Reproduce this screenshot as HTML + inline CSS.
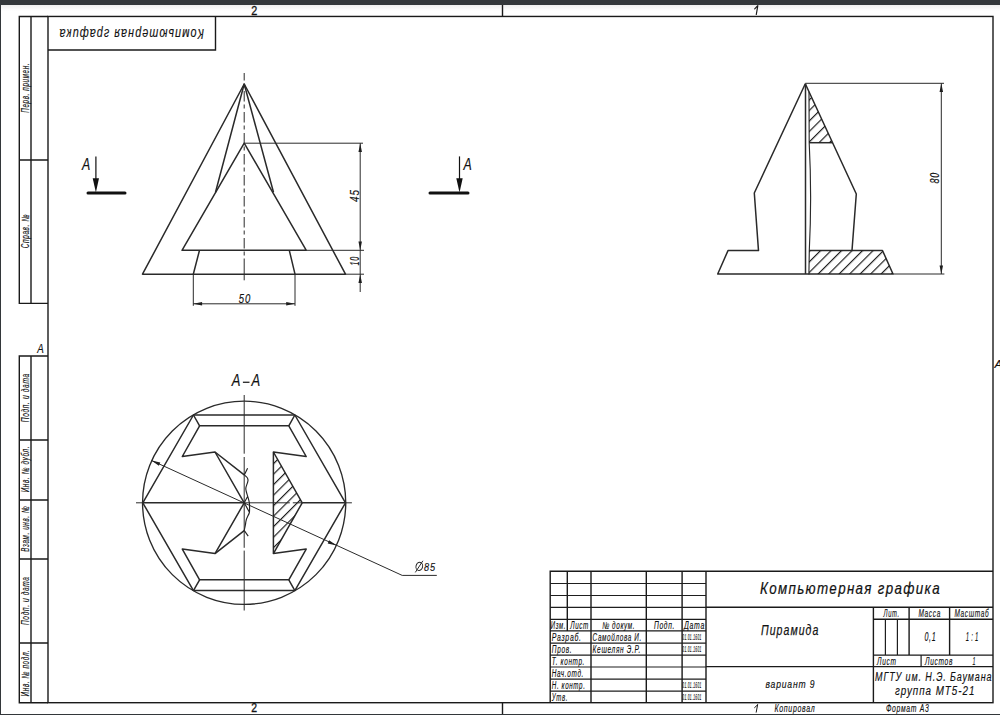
<!DOCTYPE html>
<html><head><meta charset="utf-8">
<style>
html,body{margin:0;padding:0;background:#33373a;}
body{width:1000px;height:715px;overflow:hidden;position:relative;}
svg{position:absolute;left:0;top:0;}
.m{stroke:#2a2a2a;stroke-width:1.5}.t{stroke:#2a2a2a;stroke-width:1}.f{stroke:#1a1a1a;stroke-width:1.4}.f2{stroke:#1e1e1e;stroke-width:1.2}
text{font-family:"Liberation Sans",sans-serif;font-style:italic;fill:#111;letter-spacing:0.1em;stroke:#111;stroke-width:0.15px;}
</style></head><body>
<svg width="1000" height="715" viewBox="0 0 1000 715">
<defs>
<linearGradient id="tg" x1="0" y1="0" x2="0" y2="1">
<stop offset="0" stop-color="#eeeeee"/><stop offset="1" stop-color="#ffffff"/>
</linearGradient>
<pattern id="h1" patternUnits="userSpaceOnUse" width="7.42" height="10" patternTransform="rotate(45)">
<line x1="0.6" y1="0" x2="0.6" y2="10" stroke="#1a1a1a" stroke-width="1.15"/>
</pattern>
<pattern id="h2" patternUnits="userSpaceOnUse" width="7.42" height="10" patternTransform="rotate(45) translate(-3.2 0)">
<line x1="0.6" y1="0" x2="0.6" y2="10" stroke="#1a1a1a" stroke-width="1.15"/>
</pattern>
<pattern id="h3" patternUnits="userSpaceOnUse" width="7.42" height="10" patternTransform="rotate(45) translate(1.3 0)">
<line x1="0.6" y1="0" x2="0.6" y2="10" stroke="#1a1a1a" stroke-width="1.15"/>
</pattern>
</defs>
<rect x="1" y="5" width="999" height="709" fill="#ffffff"/>
<rect x="1" y="5" width="999" height="6" fill="url(#tg)"/>

<g fill="none" class="f">
<!-- main frame -->
<rect x="48" y="16.45" width="945" height="686.25"/>
<!-- left strips -->
<path d="M48 16.45H19.3V303.4H48 M31 16.45V303.4 M19.3 160H48"/>
<path d="M48 356H19.3V702.7H48 M31 356V702.7 M19.3 440H48 M19.3 500H48 M19.3 559H48 M19.3 643H48"/>
<!-- top title box -->
<path d="M48 50H215.5V16.45"/>
<!-- zone ticks -->
<path d="M502.5 5V16.45 M502.5 702.7V714"/>
</g>

<!-- FRONT VIEW -->
<g fill="none" class="m" stroke-linejoin="round">
<path d="M244.2 84L142.5 274.2H345.5Z"/>
<path d="M244.2 143.2L182 250.3H306.3Z"/>
<path d="M244.2 84L215.5 192.2 M244.2 84L273.5 192.2"/>
<path d="M199.5 250.3L193.3 274.2 M289.3 250.3L295 274.2"/>
</g>
<g fill="none" class="t">
<path d="M244.2 73V259" stroke-dasharray="10.5 3 4 3.5" stroke-dashoffset="3"/><path d="M244.2 258.5V280.3"/>
<path d="M244.2 143.2H363 M306.3 250.3H364 M345.5 274.2H364 M360.2 143.2V292"/>
<path d="M193.3 274.2V305.8 M295 274.2V305.8 M193.3 303.8H295"/>
</g>
<g fill="#1e1e1e">
<path d="M360.2 143.2l-1.75 8.8h3.5z M360.2 250.3l-1.75 -8.8h3.5z M360.2 274.2l-1.75 8.8h3.5z"/>
<path d="M193.3 303.8l8.8 -1.75v3.5z M295 303.8l-8.8 -1.75v3.5z"/>
</g>
<text x="238.7" y="302.5" font-size="12" textLength="12.5" lengthAdjust="spacingAndGlyphs">50</text>
<text transform="translate(358.8 202) rotate(-90)" font-size="12" textLength="13" lengthAdjust="spacingAndGlyphs">45</text>
<text transform="translate(358.5 265.5) rotate(-90)" font-size="12" textLength="9.5" lengthAdjust="spacingAndGlyphs">10</text>

<!-- section markers -->
<g stroke="#111" fill="none">
<path d="M95.9 156.4V180" stroke-width="1.2"/>
<path d="M88 193H125" stroke-width="3" stroke-linecap="round"/>
<path d="M459.5 156.4V180" stroke-width="1.2"/>
<path d="M430 193H468" stroke-width="3" stroke-linecap="round"/>
</g>
<g fill="#111">
<path d="M92.7 178.2H99L95.9 192.5Z"/>
<path d="M456.3 178.2H462.7L459.5 192.5Z"/>
</g>
<text x="82" y="169.8" font-size="16" textLength="9.5" lengthAdjust="spacingAndGlyphs">A</text>
<text x="463.5" y="169.8" font-size="16" textLength="9.5" lengthAdjust="spacingAndGlyphs">A</text>

<!-- SIDE VIEW -->
<g fill="none" class="m" stroke-linejoin="round">
<path d="M805.3 83.7L754.3 193L758.5 250.6H728L717.7 274H893L882.5 250.5H809"/>
<path d="M805.3 83.7L856.3 194L852 250.5"/>
<path d="M805.5 83.7V274"/>
<path d="M809 91.7L809.2 142.7Q812 197 809.3 250.5L808.9 274.5" style="stroke-width:1.15"/>
<path d="M809 142.7H832.6"/>
</g>
<path d="M809 91.7L832.6 142.7H809Z" fill="url(#h2)"/>
<path d="M809 250.5H882.5L893 274H809Z" fill="url(#h1)"/>
<g fill="none" class="t">
<path d="M805.3 83.3H944 M893 274H944.4 M941.3 83.3V274"/>
</g>
<g fill="#1e1e1e">
<path d="M941.3 83.3l-1.75 8.6h3.5z M941.3 274l-1.75 -8.6h3.5z"/>
</g>
<text transform="translate(939 183.5) rotate(-90)" font-size="12" textLength="11.7" lengthAdjust="spacingAndGlyphs">80</text>

<!-- SECTION A-A -->
<text x="231.8" y="385.8" font-size="17" textLength="10" lengthAdjust="spacingAndGlyphs">A</text>
<text x="251.6" y="385.8" font-size="17" textLength="10" lengthAdjust="spacingAndGlyphs">A</text>
<path d="M242.9 382.3H249.5" stroke="#333" stroke-width="1.4"/>
<g fill="none" class="m" stroke-linejoin="round">
<circle cx="244.15" cy="502.8" r="101.6" style="stroke-width:1.35"/>
<path d="M142.8 502.8L193.45 415H294.85L345.5 502.8L294.85 590.6H193.45Z"/>
<path d="M142.8 502.8H244.2 M302.2 502.8H345.5"/>
<path d="M193.45 415L199.6 425.8 M294.85 415L288.8 425.8 M193.45 590.6L199.6 579.8 M294.85 590.6L288.8 579.8"/>
<path d="M244.2 425.8H199.6L182.3 456.5L215 452L244.2 474.9 M244.2 530.7L215 553.6L182.3 549.1L199.6 579.8H244.2"/>
<path d="M215 452L244.2 502.8L215 553.6"/>
<path d="M244.2 425.8H288.8L306.2 456.5L273.4 452V553.6L306.2 549.1L288.8 579.8H244.2"/>
<path d="M273.4 452L302.2 502.8L273.4 553.6"/>
</g>
<path d="M273.4 452L302.2 502.8L273.4 553.6Z" fill="url(#h3)"/>
<g fill="none" class="t">
<path d="M247.6 468.3L244.3 474.9C246.5 476.5 248.3 478 248 480.5C247.6 484 245.6 486 245.8 489C246 493 249.4 499 249.5 504.6C249.6 508 249.6 511 249.4 512.5C248.5 516 246 518 245.8 522C245.6 526 244.3 528 244.3 530.6L248.2 536.1 M244.2 502.8L247.6 496.4 M244.2 502.8L249.4 512.2" style="stroke-width:1.15;stroke:#222"/>
<path d="M244.2 395V453.7 M244.2 457V547.8 M244.2 550.6V610.5"/>
<path d="M136 502.8H142.8 M244.2 502.8H289.8 M292.8 502.8H302.2 M345.5 502.8H351.9"/>
<path d="M151.4 460.4L402.2 575.4H436.8"/>
</g>
<g fill="#1e1e1e">
<path d="M151.4 460.4L160.3 462.6L158.9 465.7Z M336.6 545.6L327.7 543.4L329.1 540.3Z"/>
</g>
<text x="424" y="570.6" font-size="11.8" textLength="12" lengthAdjust="spacingAndGlyphs">85</text>
<ellipse cx="419.3" cy="566.4" rx="3.3" ry="4.1" transform="rotate(15 419.3 566.4)" fill="none" stroke="#222" stroke-width="0.95"/>
<path d="M415.3 572.4L422.9 560.8" stroke="#222" stroke-width="0.95"/>


<!-- TITLE BLOCK -->
<g fill="none" class="f">
<path d="M550.2 702.7V571.3H993"/>
<path d="M567.3 571.3V630.9 M591 571.3V702.7 M646.3 571.3V702.7 M682.1 571.3V702.7 M706 571.3V702.7"/>
<path d="M550.2 619.4H706 M550.2 630.9H706"/>
<path d="M706 607.3H993 M706 666.6H993 M873.4 607.3V702.7"/>
<path d="M873.4 619.2H993 M873.4 655.1H993 M909.1 607.3V655.1 M949.6 607.3V655.1"/>
</g>
<g fill="none" class="f2">
<path d="M550.2 583.5H706 M550.2 595.5H706 M550.2 607.4H706"/>
<path d="M550.2 643.2H706 M550.2 655.1H706 M550.2 667H706 M550.2 679.1H706 M550.2 691.1H706"/>
<path d="M885.4 619.2V655.1 M897.4 619.2V655.1 M921.1 655.1V666.6"/>
</g>
<g font-size="10">
<text x="550.8" y="629" textLength="15.2" lengthAdjust="spacingAndGlyphs">Изм.</text>
<text x="570.2" y="629" textLength="18.8" lengthAdjust="spacingAndGlyphs">Лист</text>
<text x="602.2" y="629" textLength="33" lengthAdjust="spacingAndGlyphs">№ докум.</text>
<text x="654" y="629" textLength="21" lengthAdjust="spacingAndGlyphs">Подп.</text>
<text x="684" y="629" textLength="21" lengthAdjust="spacingAndGlyphs">Дата</text>
<text x="551.8" y="641.3" textLength="29.8" lengthAdjust="spacingAndGlyphs">Разраб.</text>
<text x="551.8" y="653.2" textLength="20.4" lengthAdjust="spacingAndGlyphs">Пров.</text>
<text x="551.8" y="665.2" textLength="33.2" lengthAdjust="spacingAndGlyphs">Т. контр.</text>
<text x="551.8" y="677.2" textLength="32.2" lengthAdjust="spacingAndGlyphs">Нач.отд.</text>
<text x="551.8" y="689.2" textLength="33.7" lengthAdjust="spacingAndGlyphs">Н. контр.</text>
<text x="551.8" y="701.2" textLength="16.2" lengthAdjust="spacingAndGlyphs">Утв.</text>
<text x="592.6" y="641.3" textLength="49.4" lengthAdjust="spacingAndGlyphs">Самойлова И.</text>
<text x="592.6" y="653.2" textLength="48.4" lengthAdjust="spacingAndGlyphs">Кешелян Э.Р.</text>
</g>
<g font-size="8.2" style="letter-spacing:0">
<text x="682.3" y="640" textLength="19.3" lengthAdjust="spacingAndGlyphs">01.01.1601</text>
<text x="682.3" y="652" textLength="19.3" lengthAdjust="spacingAndGlyphs">01.01.1601</text>
<text x="682.3" y="688" textLength="19.3" lengthAdjust="spacingAndGlyphs">01.01.1601</text>
<text x="682.3" y="700" textLength="19.3" lengthAdjust="spacingAndGlyphs">01.01.1601</text>
</g>
<text x="760" y="593.6" font-size="17" style="stroke:#111;stroke-width:0.22px" textLength="181" lengthAdjust="spacingAndGlyphs">Компьютерная графика</text>
<text x="761" y="635" font-size="15" style="stroke:#1a1a1a;stroke-width:0.25px" textLength="58.4" lengthAdjust="spacingAndGlyphs">Пирамида</text>
<text x="765.4" y="688.4" font-size="11" textLength="50" lengthAdjust="spacingAndGlyphs">вариант 9</text>
<g font-size="10.5">
<text x="883.6" y="617" textLength="16" lengthAdjust="spacingAndGlyphs">Лит.</text>
<text x="918.4" y="617" textLength="22.6" lengthAdjust="spacingAndGlyphs">Масса</text>
<text x="954.4" y="617" textLength="35" lengthAdjust="spacingAndGlyphs">Масштаб</text>
<text x="877" y="664.6" textLength="19.5" lengthAdjust="spacingAndGlyphs">Лист</text>
<text x="925" y="664.6" textLength="28" lengthAdjust="spacingAndGlyphs">Листов</text>
<text x="972.6" y="664.6" textLength="3.5" lengthAdjust="spacingAndGlyphs">1</text>
</g>
<text x="924.4" y="640.6" font-size="12" textLength="12" lengthAdjust="spacingAndGlyphs">0,1</text>
<text x="965.8" y="640.6" font-size="12" textLength="14.5" style="letter-spacing:0.35em" lengthAdjust="spacingAndGlyphs">1:1</text>
<text x="875" y="680.9" font-size="12" textLength="117.5" lengthAdjust="spacingAndGlyphs">МГТУ им. Н.Э. Баумана</text>
<text x="895" y="695" font-size="12" textLength="80.4" lengthAdjust="spacingAndGlyphs">группа МТ5-21</text>
<g font-size="10">
<path d="M757.6 704.8L756.2 712.2 M757.6 704.8L754.6 707.6" stroke="#1a1a1a" stroke-width="1" fill="none" stroke-linecap="round"/>
<text x="774.4" y="712" textLength="41" lengthAdjust="spacingAndGlyphs">Копировал</text>
<text x="886" y="712" textLength="43.5" lengthAdjust="spacingAndGlyphs">Формат А3</text>
</g>
<!-- zone labels -->
<g font-size="11">
<text x="251.3" y="14.6" font-size="12.5" textLength="6" lengthAdjust="spacingAndGlyphs" style="font-style:normal;letter-spacing:0;stroke:#1a1a1a;stroke-width:0.35px">2</text>
<text x="251.3" y="712.4" font-size="12" textLength="5.8" lengthAdjust="spacingAndGlyphs" style="font-style:normal;letter-spacing:0;stroke:#1a1a1a;stroke-width:0.35px">2</text>
<path d="M757.8 5.6L756.3 14.5 M757.8 5.6L754.7 8.8" stroke="#1a1a1a" stroke-width="1.2" fill="none" stroke-linecap="round"/>
<text x="37.3" y="352.8" font-size="12.5" textLength="7.5" lengthAdjust="spacingAndGlyphs">A</text>
<text x="994.5" y="367.7" textLength="9" lengthAdjust="spacingAndGlyphs">A</text>
</g>
<!-- top-left upside-down title -->
<text transform="translate(204 28.8) rotate(180)" font-size="14" textLength="145.6" lengthAdjust="spacingAndGlyphs">Компьютерная графика</text>
<!-- left strip vertical labels -->
<g font-size="10.5">
<text transform="translate(29.2 112.8) rotate(-90)" textLength="50.0" lengthAdjust="spacingAndGlyphs">Перв. примен.</text>
<text transform="translate(29.2 248.3) rotate(-90)" textLength="34.4" lengthAdjust="spacingAndGlyphs">Справ. №</text>
<text transform="translate(29.2 422.3) rotate(-90)" textLength="49.1" lengthAdjust="spacingAndGlyphs">Подп. и дата</text>
<text transform="translate(29.2 492.3) rotate(-90)" textLength="46.4" lengthAdjust="spacingAndGlyphs">Инв. № дубл.</text>
<text transform="translate(29.2 551.8) rotate(-90)" textLength="46.3" lengthAdjust="spacingAndGlyphs">Взам. инв. №</text>
<text transform="translate(29.2 625) rotate(-90)" textLength="48.6" lengthAdjust="spacingAndGlyphs">Подп. и дата</text>
<text transform="translate(29.2 696.4) rotate(-90)" textLength="46.9" lengthAdjust="spacingAndGlyphs">Инв. № подл.</text>
</g>
</svg>
</body></html>
